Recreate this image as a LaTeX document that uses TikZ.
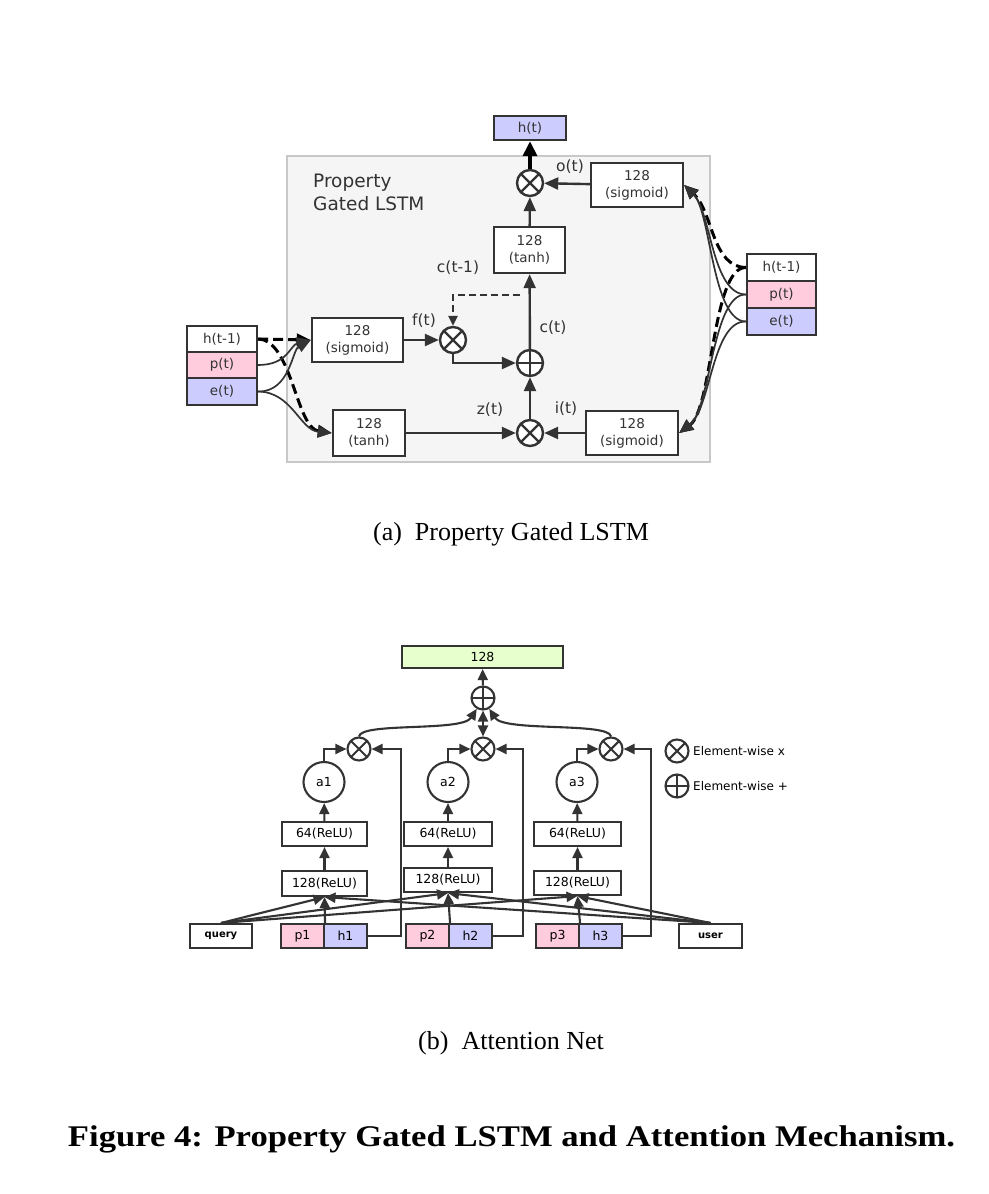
\documentclass[tikz,border=0pt]{standalone}
\usepackage{fontspec}
\setmainfont{Liberation Serif}
\newfontfamily\diag{DejaVu Sans}
\usetikzlibrary{arrows.meta,shapes.geometric}
\definecolor{lineC}{HTML}{333333}
\definecolor{hcol}{HTML}{CCCCFF}
\definecolor{pcol}{HTML}{FFCCDD}
\definecolor{gcol}{HTML}{E6FFCC}
\definecolor{bgfill}{HTML}{F5F5F5}
\definecolor{bgdraw}{HTML}{C8C8C8}
\tikzset{
  tbox/.style={draw=lineC, line width=2.4pt, fill=white, inner sep=0pt, align=center,
    text=black!80, font=\diag\fontsize{13.5}{17}\selectfont},
  tlab/.style={text=black!80, font=\diag\fontsize{15.5}{17}\selectfont, inner sep=0pt},
  tarr/.style={draw=lineC, line width=2.4pt, -{Triangle[length=14pt,width=12pt]}},
  tarrbig/.style={draw=black, line width=3.6pt, -{Triangle[length=15pt,width=14pt]}},
  tdash/.style={draw=black, line width=3pt, dash pattern=on 10pt off 5pt, -{Triangle[length=14pt,width=12pt]}},
  tthin/.style={draw=lineC, line width=1.7pt, -{Triangle[length=14pt,width=12pt]}},
  tcut/.style={draw=lineC, line width=2.4pt, dash pattern=on 7pt off 4pt, -{Triangle[length=10pt,width=9pt]}},
  mulT/.style={circle, draw=lineC, line width=2.4pt, fill=white, minimum size=26pt, inner sep=0pt,
    path picture={\draw[lineC, line width=2.4pt] (path picture bounding box.south west) -- (path picture bounding box.north east)
      (path picture bounding box.north west) -- (path picture bounding box.south east);}},
  addT/.style={circle, draw=lineC, line width=2.4pt, fill=white, minimum size=26pt, inner sep=0pt,
    path picture={\draw[lineC, line width=2.4pt] (path picture bounding box.north) -- (path picture bounding box.south)
      (path picture bounding box.west) -- (path picture bounding box.east);}},
  bbox/.style={draw=lineC, line width=2.1pt, fill=white, inner sep=0pt, align=center,
    text=black, font=\diag\fontsize{12.5}{14}\selectfont},
  barr/.style={draw=lineC, line width=2.1pt, -{Triangle[length=11pt,width=10pt]}},
  mulB/.style={circle, draw=lineC, line width=2.1pt, fill=white, minimum size=23pt, inner sep=0pt,
    path picture={\draw[lineC, line width=2.1pt] (path picture bounding box.south west) -- (path picture bounding box.north east)
      (path picture bounding box.north west) -- (path picture bounding box.south east);}},
  addB/.style={circle, draw=lineC, line width=2.1pt, fill=white, minimum size=23pt, inner sep=0pt,
    path picture={\draw[lineC, line width=2.1pt] (path picture bounding box.north) -- (path picture bounding box.south)
      (path picture bounding box.west) -- (path picture bounding box.east);}},
}
\begin{document}
\begin{tikzpicture}[x=1pt,y=-1pt]
\useasboundingbox (0,0) rectangle (988,1194);
% ---------------- (a) ----------------
\draw[fill=bgfill, draw=bgdraw, line width=2.2pt] (287,156) rectangle (710,462);
\node[tlab, anchor=north west, align=left, font=\diag\fontsize{18.5}{23}\selectfont] (ttl) at (313,174) {Property\\Gated LSTM};

\node[tbox, fill=hcol, minimum width=72pt, minimum height=24pt] (ht) at (530,128) {h(t)};
\node[mulT] (mo) at (530,183) {};
\node[tbox, minimum width=92pt, minimum height=44pt] (sgo) at (637,185) {128\\(sigmoid)};
\node[tbox, minimum width=71pt, minimum height=46pt] (tanhc) at (529.5,250) {128\\(tanh)};
\node[mulT] (mf) at (453,340) {};
\node[tbox, minimum width=91pt, minimum height=44pt] (sgf) at (357.5,340) {128\\(sigmoid)};
\node[addT] (pl) at (530,363) {};
\node[mulT] (mi) at (530,433) {};
\node[tbox, minimum width=72pt, minimum height=46pt] (tanhz) at (369,433) {128\\(tanh)};
\node[tbox, minimum width=92pt, minimum height=44pt] (sgi) at (632,433) {128\\(sigmoid)};

\node[tbox, minimum width=70pt, minimum height=26pt] (lh) at (222,339) {h(t-1)};
\node[tbox, fill=pcol, minimum width=70pt, minimum height=26pt] (lp) at (222,365) {p(t)};
\node[tbox, fill=hcol, minimum width=70pt, minimum height=27pt] (le) at (222,391.5) {e(t)};
\node[tbox, minimum width=69pt, minimum height=27pt] (rh) at (781.5,267.5) {h(t-1)};
\node[tbox, fill=pcol, minimum width=69pt, minimum height=27pt] (rp) at (781.5,294.5) {p(t)};
\node[tbox, fill=hcol, minimum width=69pt, minimum height=27pt] (re) at (781.5,321.5) {e(t)};

\node[tlab] (lo) at (570,167) {o(t)};
\node[tlab] (lc1) at (458,268) {c(t-1)};
\node[tlab] (lf) at (424,321) {f(t)};
\node[tlab] (lc) at (553,328) {c(t)};
\node[tlab] (lz) at (490,410) {z(t)};
\node[tlab] (li) at (566,409) {i(t)};

\draw[tarrbig] (mo) -- (ht);
\draw[tarr] (sgo) -- (mo);
\draw[tarr] (tanhc) -- (mo);
\draw[tarr] (pl) -- (tanhc);
\draw[tarr] (mi) -- (pl);
\draw[tarr] (tanhz) -- (mi);
\draw[tarr] (sgi) -- (mi);
\draw[tarr] (sgf) -- (mf);
\draw[tarr] (mf.south) |- (pl.west);
\coordinate (cd) at (520,295);
\draw[tcut] (cd) -| (mf.north);

% left inputs
\draw[tdash] (lh.east) -- (sgf.west);
\draw[tdash] (lh.east) .. controls (292,340) and (296,428) .. (tanhz.west);
\draw[tthin] (lp.east) .. controls (288,365) and (290,345) .. (sgf.west);
\draw[tthin] (le.east) .. controls (290,392) and (292,350) .. (sgf.west);
\draw[tthin] (le.east) .. controls (292,392) and (300,430) .. (tanhz.west);

% right inputs
\draw[tdash] (rh.west) .. controls (712,267) and (713,212) .. (sgo.east);
\draw[tdash] (rh.west) .. controls (712,267) and (713,408) .. (sgi.east);
\draw[tthin] (rp.west) .. controls (712,294) and (711,212) .. (sgo.east);
\draw[tthin] (rp.west) .. controls (712,294) and (711,408) .. (sgi.east);
\draw[tthin] (re.west) .. controls (712,321) and (711,212) .. (sgo.east);
\draw[tthin] (re.west) .. controls (712,321) and (711,408) .. (sgi.east);

\node[font=\fontsize{26}{30}\selectfont, inner sep=0pt, anchor=base] (capa) at (511,540) {(a)\ \ Property Gated LSTM};

% ---------------- (b) ----------------
\node[bbox, fill=gcol, minimum width=161pt, minimum height=22pt] (out) at (482.5,657) {128};
\node[addB] (op) at (483,698) {};
\node[mulB] (m1) at (359,749) {};
\node[mulB] (m2) at (483,749) {};
\node[mulB] (m3) at (611,749) {};
\node[bbox, ellipse, minimum width=41pt, minimum height=40pt] (a1) at (324,782) {a1};
\node[bbox, ellipse, minimum width=41pt, minimum height=40pt] (a2) at (448,782) {a2};
\node[bbox, ellipse, minimum width=41pt, minimum height=40pt] (a3) at (577,782) {a3};
\node[bbox, minimum width=85pt, minimum height=24pt] (s1) at (324.5,834) {64(ReLU)};
\node[bbox, minimum width=88pt, minimum height=24pt] (s2) at (448,834) {64(ReLU)};
\node[bbox, minimum width=87pt, minimum height=24pt] (s3) at (577.5,834) {64(ReLU)};
\node[bbox, minimum width=85pt, minimum height=25pt] (r1) at (324.5,883.5) {128(ReLU)};
\node[bbox, minimum width=88pt, minimum height=24pt] (r2) at (448,880) {128(ReLU)};
\node[bbox, minimum width=87pt, minimum height=24pt] (r3) at (577.5,883) {128(ReLU)};

\node[bbox, font=\diag\bfseries\fontsize{10}{12}\selectfont, minimum width=62pt, minimum height=24pt] (q) at (221,936) {query};
\node[bbox, fill=pcol, minimum width=43pt, minimum height=24pt] (p1) at (302.5,936) {p1};
\node[bbox, fill=hcol, minimum width=43pt, minimum height=24pt] (h1) at (345.5,936) {h1};
\node[bbox, fill=pcol, minimum width=43pt, minimum height=24pt] (p2) at (427.5,936) {p2};
\node[bbox, fill=hcol, minimum width=43pt, minimum height=24pt] (h2) at (470.5,936) {h2};
\node[bbox, fill=pcol, minimum width=43pt, minimum height=24pt] (p3) at (557.5,936) {p3};
\node[bbox, fill=hcol, minimum width=43pt, minimum height=24pt] (h3) at (600.5,936) {h3};
\node[bbox, font=\diag\bfseries\fontsize{10}{12}\selectfont, minimum width=63pt, minimum height=24pt] (u) at (710.5,936) {user};

\node[mulB] (lg1) at (677,751) {};
\node[anchor=west, inner sep=0pt, font=\diag\fontsize{12}{14}\selectfont] (lgt1) at (693,751) {Element-wise x};
\node[addB] (lg2) at (677,786) {};
\node[anchor=west, inner sep=0pt, font=\diag\fontsize{12}{14}\selectfont] (lgt2) at (693,786) {Element-wise +};

\draw[barr] (op) -- (out);
\draw[barr, {Triangle[length=11pt,width=10pt]}-{Triangle[length=11pt,width=10pt]}] (m2) -- (op);
\draw[barr] (m1.north) .. controls (361,722) and (462,732) .. (op.240);
\draw[barr] (m3.north) .. controls (609,722) and (504,732) .. (op.300);
\draw[barr] (a1.north) |- (m1.west);
\draw[barr] (a2.north) |- (m2.west);
\draw[barr] (a3.north) |- (m3.west);
\coordinate (k1) at (401,749);
\coordinate (k2) at (523,749);
\coordinate (k3) at (651,749);
\draw[barr] (h1.east) -| (k1) -- (m1.east);
\draw[barr] (h2.east) -| (k2) -- (m2.east);
\draw[barr] (h3.east) -| (k3) -- (m3.east);
\draw[barr] (s1) -- (a1);
\draw[barr] (s2) -- (a2);
\draw[barr] (s3) -- (a3);
\draw[barr] (r1) -- (s1);
\draw[barr] (r2) -- (s2);
\draw[barr] (r3) -- (s3);
\draw[barr] (p1.north east) -- (r1.south);
\draw[barr] (p2.north east) -- (r2.south);
\draw[barr] (p3.north east) -- (r3.south);
\foreach \r in {r1,r2,r3}{
  \draw[barr] (q.north) -- (\r.south);
  \draw[barr] (u.north) -- (\r.south);
}

\node[font=\fontsize{26}{30}\selectfont, inner sep=0pt, anchor=base] (capb) at (511,1049) {(b)\ \ Attention Net};
\node[font=\bfseries\fontsize{30}{34}\selectfont, inner sep=0pt, anchor=base] (fig) at (511.5,1146) {\scalebox{1.155}[1]{Figure 4: Property Gated LSTM and Attention Mechanism.}};
\end{tikzpicture}
\end{document}
